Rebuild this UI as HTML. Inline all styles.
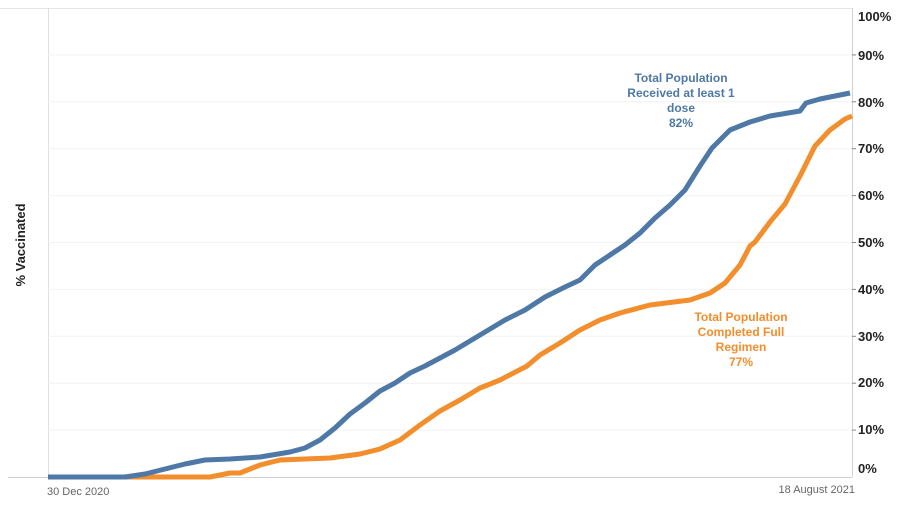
<!DOCTYPE html>
<html><head><style>
body{margin:0;background:#fff;}
svg{display:block;font-family:"Liberation Sans",sans-serif;}
</style></head><body>
<svg width="902" height="507" viewBox="0 0 902 507">
<line x1="0" y1="8.5" x2="852" y2="8.5" stroke="#e6e6e6"/>
<line x1="48.5" y1="8" x2="48.5" y2="477" stroke="#e0e0e0"/>
<g stroke="#f2f2f2">
<line x1="48" y1="54.9" x2="852" y2="54.9"/><line x1="48" y1="101.8" x2="852" y2="101.8"/>
<line x1="48" y1="148.7" x2="852" y2="148.7"/><line x1="48" y1="195.6" x2="852" y2="195.6"/>
<line x1="48" y1="242.5" x2="852" y2="242.5"/><line x1="48" y1="289.4" x2="852" y2="289.4"/>
<line x1="48" y1="336.3" x2="852" y2="336.3"/><line x1="48" y1="383.2" x2="852" y2="383.2"/>
<line x1="48" y1="430.1" x2="852" y2="430.1"/>
</g>
<line x1="8" y1="477.5" x2="852" y2="477.5" stroke="#d0d0d0"/>
<line x1="852.5" y1="8" x2="852.5" y2="477" stroke="#d0d0d0"/>
<g stroke="#888"><line x1="852" y1="54.9" x2="856" y2="54.9"/><line x1="852" y1="101.8" x2="856" y2="101.8"/><line x1="852" y1="148.7" x2="856" y2="148.7"/><line x1="852" y1="195.6" x2="856" y2="195.6"/><line x1="852" y1="242.5" x2="856" y2="242.5"/><line x1="852" y1="289.4" x2="856" y2="289.4"/><line x1="852" y1="336.3" x2="856" y2="336.3"/><line x1="852" y1="383.2" x2="856" y2="383.2"/><line x1="852" y1="430.1" x2="856" y2="430.1"/></g>
<g font-size="13" font-weight="bold" fill="#222">
<text x="858" y="21">100%</text><text x="858" y="60">90%</text><text x="858" y="107">80%</text>
<text x="858" y="153">70%</text><text x="858" y="200">60%</text><text x="858" y="247">50%</text>
<text x="858" y="294">40%</text><text x="858" y="341">30%</text><text x="858" y="387">20%</text>
<text x="858" y="434">10%</text><text x="858" y="473">0%</text>
</g>
<text transform="translate(25,245) rotate(-90)" text-anchor="middle" font-size="13" font-weight="bold" fill="#222">% Vaccinated</text>
<text x="47" y="495" font-size="11" fill="#666">30 Dec 2020</text>
<text x="855" y="493" font-size="11" fill="#666" text-anchor="end">18 August 2021</text>
<polyline fill="none" stroke="#f28e2b" stroke-width="5" stroke-linejoin="round" points="48,477 210,477 230,473 240,473 260,465 280,460 330,458 360,454 380,449 400,440 420,425 440,411 460,400 480,388 500,380 527,366 540,355 560,343 580,330 600,320 620,313 650,305 690,300 710,293 725,283 740,265 750,246 755,242 770,222 785,204 800,176 815,146 830,130 845,119 852,116"/>
<polyline fill="none" stroke="#4e79a7" stroke-width="5" stroke-linejoin="round" points="48,477 125,477 145,474 165,469 185,464 205,460 230,459 260,457 290,452 305,448 320,440 335,428 350,414 365,403 380,391 395,383 410,373 425,366 440,358 455,350 470,341 485,332 505,320 525,310 545,297 565,287 580,280 595,265 610,255 625,245 640,233 655,218 670,205 685,190 700,166 712,148 730,130 750,122 770,116 800,111 806,103 820,99 850,93"/>
<g font-size="12" font-weight="bold" fill="#4e79a7" text-anchor="middle">
<text x="681" y="82">Total Population</text><text x="681" y="97">Received at least 1</text><text x="681" y="112">dose</text><text x="681" y="127">82%</text>
</g>
<g font-size="12" font-weight="bold" fill="#f28e2b" text-anchor="middle">
<text x="741" y="321">Total Population</text><text x="741" y="336">Completed Full</text><text x="741" y="351">Regimen</text><text x="741" y="366">77%</text>
</g>
</svg>
</body></html>
